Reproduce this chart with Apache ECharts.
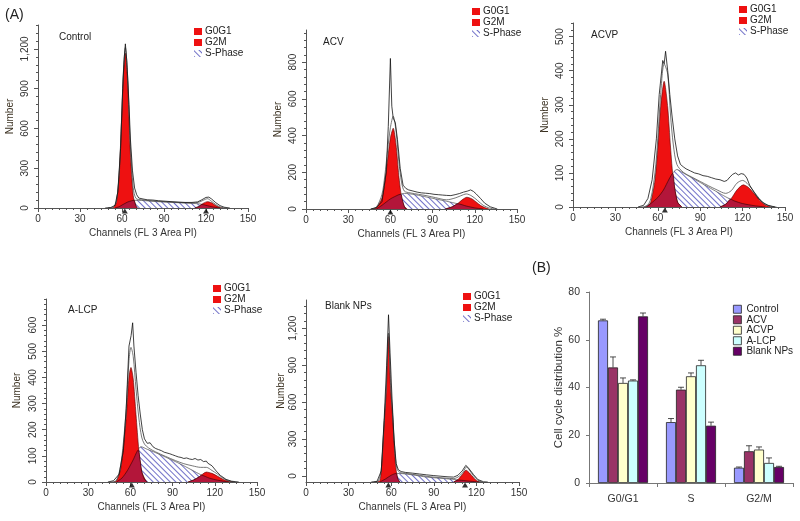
<!DOCTYPE html>
<html><head><meta charset="utf-8">
<script src="https://cdn.jsdelivr.net/npm/echarts@6/dist/echarts.min.js"></script>
<style>html,body{margin:0;padding:0;background:#fff}#c{width:800px;height:521px}</style>
</head><body><div id="c"></div>
<script>
// ---------- Panel (A) histogram data: [channel, count] ----------
const xTickLabels = [0, 30, 60, 90, 120, 150];

const ctrlYTicks = [0, 300, 600, 900, 1200];
const ctrlG1 = [[53,0],[54,4],[56,44],[58,248],[60,737],[61,997],[62.4,1167],[64,951],[65,680],[66,413],[68,95],[70,11],[71,0]];
const ctrlS = [[55,0],[58,10],[60,22],[64,45],[68,58],[72,58],[80,52],[90,45],[100,40],[110,35],[116,30],[120,20],[125,8],[130,0]];
const ctrlG2 = [[112,0],[115,12],[118,35],[121,48],[124,40],[127,18],[130,4],[132,0]];
const ctrlOv1 = [[55,0],[58,10],[60,22],[64,45],[67,55],[68.6,58],[69.5,30],[70.5,5],[71,0]];
const ctrlOv2 = [[112,0],[115,12],[117,27],[120,20],[125,8],[130,0]];
const ctrlFit = [[50,0],[54,8],[56,50],[58,265],[60,760],[61,1030],[62.4,1210],[64,1000],[65,730],[66,465],[68,155],[70,72],[74,62],[80,55],[90,48],[100,42],[110,38],[115,44],[118,58],[121,70],[124,50],[127,26],[130,8],[134,0]];
const ctrlData = [[48,0],[52,4],[55,20],[57,120],[59,450],[60.5,900],[61.5,1120],[62.4,1238],[63.5,1100],[65,780],[66,520],[67.5,280],[69,150],[70.5,100],[72,75],[75,68],[78,62],[82,60],[86,55],[90,52],[95,48],[100,45],[105,42],[110,42],[114,46],[117,62],[120,80],[122,82],[124,68],[127,40],[130,18],[133,6],[137,0]];
const ctrlMarks = [62, 120];

const acvYTicks = [0, 200, 400, 600, 800];
const acvG1 = [[48,0],[50,5],[54,60],[56,143],[58,267],[60,388],[62,440],[64,352],[66,181],[68,60],[70,12],[72,0]];
const acvS = [[48,0],[54,20],[60,55],[66,78],[70,85],[76,80],[84,68],[92,55],[100,42],[108,28],[114,16],[120,6],[126,0]];
const acvG2 = [[99,0],[104,12],[108,30],[111,50],[114.4,64],[118,55],[121,38],[124,20],[128,5],[130,0]];
const acvOv1 = [[50,0],[54,20],[60,55],[66,78],[67.5,80],[68.5,50],[70,12],[71,0]];
const acvOv2 = [[99,0],[104,12],[108,28],[114,16],[120,6],[126,0]];
const acvFit = [[46,0],[50,10],[54,80],[56,180],[58,320],[60,443],[62,505],[64,425],[66,260],[68,142],[70,97],[74,88],[80,80],[86,72],[92,62],[100,50],[106,60],[110,72],[114,82],[118,70],[122,46],[126,20],[130,6],[134,0]];
const acvData = [[46,0],[50,8],[54,40],[57,200],[58.5,450],[60,820],[61,560],[62,495],[63.5,470],[65,380],[67,220],[69,130],[71,112],[73,104],[76,98],[79,92],[82,88],[85,86],[88,84],[91,80],[94,78],[97,76],[100,74],[103,73],[106,78],[109,84],[112,92],[115,98],[117,104],[119,96],[121,82],[124,58],[127,32],[131,12],[136,0]];
const acvMarks = [60];

const acvpYTicks = [0, 100, 200, 300, 400, 500];
const acvpG1 = [[51,0],[53,3],[55,14],[58,79],[60,176],[62,294],[64.5,369],[67,294],[69,176],[71,79],[74,14],[77,0]];
const acvpS = [[50,0],[55,10],[60,28],[64,50],[68,82],[71,102],[73.5,110],[78,100],[84,86],[90,72],[96,58],[102,44],[108,30],[114,18],[120,10],[128,4],[136,0]];
const acvpG2 = [[104,0],[108,8],[112,25],[116,50],[120.5,65],[124,58],[128,40],[132,20],[136,6],[140,0]];
const acvpOv1 = [[52,0],[55,10],[60,28],[64,50],[68,82],[70.5,99],[72,55],[74,14],[77,0]];
const acvpOv2 = [[104,0],[108,8],[111.5,23],[114,18],[120,10],[128,4],[136,0]];
const acvpFit = [[48,0],[52,2],[55,24],[58,100],[60,200],[62,330],[64.5,420],[67,390],[69,270],[71,182],[73.5,125],[78,102],[84,88],[90,75],[96,62],[102,50],[108,40],[112,48],[116,70],[120,78],[124,66],[128,45],[132,24],[136,8],[140,2],[144,0]];
const acvpData = [[46,0],[50,5],[53,25],[56,80],[59,200],[61,330],[63.5,430],[64.5,420],[65.5,457],[67,400],[68.5,330],[70,270],[72,200],[74,150],[76,125],[78,118],[80,112],[83,106],[86,100],[89,97],[92,92],[95,90],[98,86],[101,82],[104,80],[107,75],[109,78],[111,88],[113,96],[115,100],[117,94],[119,98],[121,96],[123,85],[125,64],[128,44],[131,26],[134,14],[138,5],[143,0]];
const acvpMarks = [65];

const alcpYTicks = [0, 100, 200, 300, 400, 500, 600];
const alcpG1 = [[48,0],[50,5],[53,47],[55,133],[57,243],[59,404],[60.4,438],[62,395],[64,258],[66,122],[68,41],[71,4],[72,0]];
const alcpS = [[50,0],[54,15],[58,45],[62,85],[65,120],[67.5,135],[72,125],[78,112],[85,95],[92,78],[98,62],[104,45],[110,28],[116,15],[122,7],[130,0]];
const alcpG2 = [[101,0],[105,8],[109,20],[114,38],[118,33],[122,22],[126,10],[130,3],[133,0]];
const alcpOv1 = [[50,0],[54,15],[58,45],[62,85],[65.5,122],[67,80],[68,41],[70,10],[72,0]];
const alcpOv2 = [[101,0],[105,8],[109,20],[110.5,26],[116,15],[122,7],[130,0]];
const alcpFit = [[46,0],[50,5],[53,62],[55,150],[57,280],[59,465],[60.4,515],[62,480],[64,355],[66,245],[68,172],[70,145],[73,130],[78,115],[85,98],[92,82],[98,70],[104,62],[110,56],[114,56],[118,44],[122,30],[126,14],[130,4],[134,0]];
const alcpData = [[44,0],[48,5],[52,30],[55,120],[57,280],[59,520],[60.5,560],[61.6,609],[62.5,520],[64,420],[65.5,330],[67,260],[68.5,200],[70,165],[72,148],[73,142],[74,150],[76,135],[78,128],[80,124],[82,120],[84,114],[86,111],[88,108],[90,104],[92,100],[94,96],[96,94],[98,90],[100,92],[102,88],[104,86],[106,90],[108,84],[110,86],[112,78],[114,80],[115,72],[118,62],[121,42],[124,25],[128,10],[132,3],[137,0]];
const alcpMarks = [61];

const blankYTicks = [0, 300, 600, 900, 1200];
const blankG1 = [[50,-50],[52,-40],[53,40],[55,420],[56.5,690],[58.1,1133],[59.6,712],[61,476],[63,95],[64.5,-20],[66,-50]];
const blankS = [[52,-50],[56,-25],[60,5],[64,20],[68,18],[75,8],[85,-10],[95,-20],[103,-28],[108,-35],[114,-42],[120,-48],[124,-50]];
const blankG2 = [[104,-50],[107,-30],[110,10],[112.7,46],[115,25],[118,-15],[121,-45],[123,-50]];
const blankOv1 = [[52,-50],[56,-25],[60,5],[63.5,20],[64.5,-20],[66,-50]];
const blankOv2 = [[104,-50],[106,-38],[108,-35],[114,-42],[120,-48],[122,-50]];
const blankFit = [[48,-50],[51,-40],[53,50],[55,420],[56.5,700],[58.1,1160],[59.6,735],[61,500],[62.5,220],[64,60],[66,28],[70,20],[78,8],[88,-8],[98,-18],[104,-22],[108,-2],[111,38],[113,72],[115,48],[118,0],[121,-35],[124,-50]];
const blankData = [[46,-50],[50,-45],[53,40],[55,450],[56.8,900],[58.1,1310],[59.2,1000],[60.5,650],[62,300],[63.5,100],[65,50],[67,35],[70,28],[75,22],[80,15],[85,8],[90,2],[95,-3],[100,-8],[104,-10],[107,5],[110,40],[112.5,85],[114,70],[116,40],[118,10],[121,-30],[125,-48],[128,-50]];
const blankMarks = [58, 112];

// ---------- Panel (B) bar data ----------
const phases = ['G0/G1', 'S', 'G2/M'];
const groups = ['Control', 'ACV', 'ACVP', 'A-LCP', 'Blank NPs'];
const controlPct = [68.1, 25.5, 6.4];
const acvPct = [48.4, 39.1, 13.3];
const acvpPct = [41.9, 44.7, 14.0];
const alcpPct = [42.9, 49.3, 8.4];
const blankPct = [69.8, 24.0, 6.7];
const controlErr = [0.5, 1.5, 0.3];
const acvErr = [4.4, 1.0, 2.3];
const acvpErr = [2.1, 1.4, 1.1];
const alcpErr = [0.3, 2.1, 2.1];
const blankErr = [1.4, 1.5, 0.3];

// ---------- build ----------
const FONT = '"Liberation Sans", Arial, sans-serif';
const RED = '#ee1111', DARKRED = '#b3163a', AX = '#555', TXT = '#333';
const hatchDecal = {symbol: 'rect', symbolSize: 1, color: '#7070c8', backgroundColor: '#ffffff',
  dashArrayX: [1, 0], dashArrayY: [1, 3], rotation: Math.PI / 4};

const panels = [
  {grid: {left: 38, top: 25, width: 210, height: 183}, min: 0, max: 1380, ticks: ctrlYTicks, minor: 60, nameGap: 23,
   title: 'Control', tPos: [59, 32], leg: [194, 26], d: [ctrlS, ctrlG1, ctrlG2, ctrlOv1, ctrlOv2, ctrlFit, ctrlData], marks: ctrlMarks},
  {grid: {left: 306, top: 30, width: 211, height: 179}, min: 0, max: 975, ticks: acvYTicks, minor: 40, nameGap: 23,
   title: 'ACV', tPos: [323, 37], leg: [472, 6], d: [acvS, acvG1, acvG2, acvOv1, acvOv2, acvFit, acvData], marks: acvMarks},
  {grid: {left: 573, top: 23, width: 212, height: 184}, min: 0, max: 540, ticks: acvpYTicks, minor: 20, nameGap: 23,
   title: 'ACVP', tPos: [591, 30], leg: [739, 4], d: [acvpS, acvpG1, acvpG2, acvpOv1, acvpOv2, acvpFit, acvpData], marks: acvpMarks},
  {grid: {left: 46, top: 299, width: 211, height: 183}, min: 0, max: 700, ticks: alcpYTicks, minor: 20, nameGap: 24,
   title: 'A-LCP', tPos: [68, 305], leg: [213, 283], d: [alcpS, alcpG1, alcpG2, alcpOv1, alcpOv2, alcpFit, alcpData], marks: alcpMarks},
  {grid: {left: 306, top: 300, width: 213, height: 182}, min: -50, max: 1430, ticks: blankYTicks, minor: 60, nameGap: 20,
   title: 'Blank NPs', tPos: [325, 301], leg: [463, 291], d: [blankS, blankG1, blankG2, blankOv1, blankOv2, blankFit, blankData], marks: blankMarks}
];

const grid = [], xAxis = [], yAxis = [], series = [], legend = [], graphic = [];
const minorX = [];
for (let v = 0; v <= 150; v += 5) minorX.push(v);

panels.forEach((p, i) => {
  grid.push(Object.assign({containLabel: false}, p.grid));
  const minorY = [];
  for (let v = 0; v <= p.max; v += p.minor) minorY.push(v);
  xAxis.push({type: 'value', gridIndex: i, min: 0, max: 150, position: 'bottom',
    axisLine: {show: true, onZero: false, lineStyle: {color: AX, width: 1}},
    axisTick: {show: true, customValues: xTickLabels, length: 4, lineStyle: {color: AX}},
    axisLabel: {customValues: xTickLabels, margin: 6, fontSize: 10, color: TXT, fontFamily: FONT},
    splitLine: {show: false},
    name: 'Channels (FL 3 Area PI)', nameLocation: 'middle', nameGap: 20,
    nameTextStyle: {fontSize: 10, color: TXT, fontFamily: FONT}});
  xAxis.push({type: 'value', gridIndex: i, min: 0, max: 150, position: 'bottom',
    axisLine: {show: false, onZero: false},
    axisTick: {show: true, customValues: minorX, length: 2, lineStyle: {color: AX}},
    axisLabel: {show: false}, splitLine: {show: false}});
  yAxis.push({type: 'value', gridIndex: i, min: p.min, max: p.max, position: 'left',
    axisLine: {show: true, onZero: false, lineStyle: {color: AX, width: 1}},
    axisTick: {show: true, customValues: p.ticks, length: 4, lineStyle: {color: AX}},
    axisLabel: {customValues: p.ticks, rotate: 90, margin: 8, fontSize: 10, color: TXT, fontFamily: FONT},
    splitLine: {show: false},
    name: 'Number', nameLocation: 'middle', nameGap: p.nameGap,
    nameTextStyle: {fontSize: 10, color: '#3a3020', fontFamily: FONT}});
  yAxis.push({type: 'value', gridIndex: i, min: p.min, max: p.max, position: 'left',
    axisLine: {show: false, onZero: false},
    axisTick: {show: true, customValues: minorY, length: 2, lineStyle: {color: AX}},
    axisLabel: {show: false}, splitLine: {show: false}});

  const xi = 2 * i, yi = 2 * i;
  const base = {type: 'line', xAxisIndex: xi, yAxisIndex: yi, showSymbol: false, symbol: 'none', silent: true, animation: false};
  const [S, G1, G2, O1, O2, FIT, DATA] = p.d;
  series.push(Object.assign({}, base, {name: 'S-Phase', data: S, smooth: 0.25, z: 2,
    lineStyle: {color: '#333', width: 0.6}, itemStyle: {color: '#ffffff', decal: hatchDecal},
    areaStyle: {origin: 'start', opacity: 1, color: '#ffffff'}}));
  series.push(Object.assign({}, base, {name: 'G0G1', data: G1, smooth: 0.25, z: 3,
    lineStyle: {color: '#500', width: 0.6}, itemStyle: {color: RED},
    areaStyle: {origin: 'start', opacity: 1, color: RED}}));
  series.push(Object.assign({}, base, {name: 'G2M', data: G2, smooth: 0.25, z: 3,
    lineStyle: {color: '#500', width: 0.6}, itemStyle: {color: RED},
    areaStyle: {origin: 'start', opacity: 1, color: RED}}));
  [O1, O2].forEach(o => series.push(Object.assign({}, base, {name: 'overlap', data: o, smooth: 0.25, z: 4,
    lineStyle: {color: '#300', width: 0.6}, itemStyle: {color: DARKRED},
    areaStyle: {origin: 'start', opacity: 1, color: DARKRED}})));
  series.push(Object.assign({}, base, {name: 'fit', data: FIT, smooth: 0.3, z: 5,
    lineStyle: {color: '#555', width: 0.8}}));
  series.push(Object.assign({}, base, {name: 'data', data: DATA, smooth: false, z: 6,
    lineStyle: {color: '#111', width: 0.8}}));
  series.push({type: 'scatter', xAxisIndex: xi, yAxisIndex: yi, symbol: 'triangle', symbolSize: [6, 5],
    symbolOffset: [0, 3], clip: false, silent: true, z: 7, itemStyle: {color: '#000'},
    data: p.marks.map(c => [c, p.min])});

  legend.push({data: ['G0G1', 'G2M', 'S-Phase'], orient: 'vertical', left: p.leg[0], top: p.leg[1],
    itemWidth: 8, itemHeight: 7, itemGap: 0, padding: 0, icon: 'rect', selectedMode: false,
    textStyle: {fontSize: 10, color: '#222', lineHeight: 11, fontFamily: FONT, padding: [0, 0, 0, -2]}});
  graphic.push({type: 'text', left: p.tPos[0], top: p.tPos[1],
    style: {text: p.title, font: '10px ' + FONT, fill: '#222'}});
});

// ---------- bar chart (B) ----------
const bi = panels.length;
grid.push({left: 589, top: 292, width: 204, height: 191, containLabel: false});
xAxis.push({type: 'category', gridIndex: bi, data: phases, position: 'bottom',
  axisLine: {show: true, onZero: false, lineStyle: {color: '#777'}},
  axisTick: {show: true, length: 4, lineStyle: {color: '#777'}},
  axisLabel: {margin: 11, fontSize: 10.5, color: TXT, fontFamily: FONT}});
yAxis.push({type: 'value', gridIndex: bi, min: 0, max: 80, interval: 20, position: 'left',
  axisLine: {show: true, onZero: false, lineStyle: {color: '#777'}},
  axisTick: {show: true, length: 3, lineStyle: {color: '#777'}},
  axisLabel: {margin: 9, fontSize: 10.5, color: TXT, fontFamily: FONT},
  splitLine: {show: false},
  name: 'Cell cycle distribution %', nameLocation: 'middle', nameGap: 20,
  nameTextStyle: {fontSize: 11.5, color: TXT, fontFamily: FONT}});
const barX = xAxis.length - 1, barY = yAxis.length - 1;

const groupVals = [controlPct, acvPct, acvpPct, alcpPct, blankPct];
const groupErrs = [controlErr, acvErr, acvpErr, alcpErr, blankErr];
const groupColors = ['#9999ff', '#993366', '#ffffcc', '#ccffff', '#660066'];
const errData = [];
groups.forEach((g, k) => {
  series.push({type: 'bar', name: g, xAxisIndex: barX, yAxisIndex: barY,
    data: groupVals[k], barWidth: 10, barGap: '0%', animation: false, silent: true,
    itemStyle: {color: groupColors[k], borderColor: '#222', borderWidth: 0.8}});
  groupVals[k].forEach((v, c) => errData.push([c, v, v + groupErrs[k][c], k]));
});
series.push({type: 'custom', xAxisIndex: barX, yAxisIndex: barY, data: errData, silent: true, z: 10,
  animation: false,
  renderItem: function (params, api) {
    const top = api.coord([api.value(0), api.value(2)]);
    const bot = api.coord([api.value(0), api.value(1)]);
    const x = top[0] + (api.value(3) - 2) * 10;
    const st = {stroke: '#222', lineWidth: 0.8};
    return {type: 'group', children: [
      {type: 'line', shape: {x1: x, y1: bot[1], x2: x, y2: top[1]}, style: st},
      {type: 'line', shape: {x1: x - 3, y1: top[1], x2: x + 3, y2: top[1]}, style: st}
    ]};
  }});
legend.push({data: groups, orient: 'vertical', left: 733, top: 304, itemWidth: 8, itemHeight: 8,
  itemGap: 0, padding: 0, icon: 'rect', selectedMode: false,
  itemStyle: {borderColor: '#222', borderWidth: 0.8},
  textStyle: {fontSize: 10, color: '#222', lineHeight: 10.5, fontFamily: FONT}});

graphic.push({type: 'text', left: 5, top: 8, style: {text: '(A)', font: '14px ' + FONT, fill: '#222'}});
graphic.push({type: 'text', left: 532, top: 261, style: {text: '(B)', font: '14px ' + FONT, fill: '#222'}});

const chart = echarts.init(document.getElementById('c'), null, {renderer: 'canvas'});
chart.setOption({animation: false, backgroundColor: '#fff', grid, xAxis, yAxis, series, legend, graphic});
</script></body></html>
